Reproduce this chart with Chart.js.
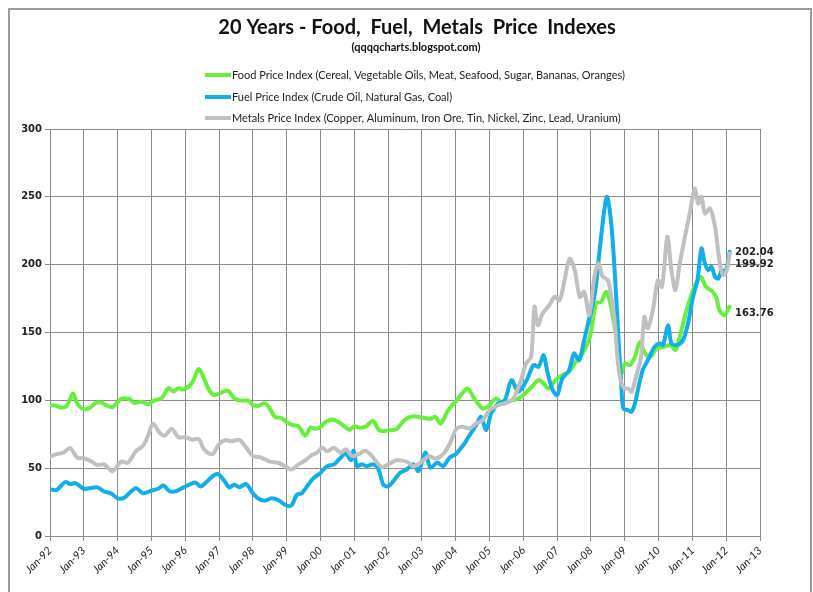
<!DOCTYPE html>
<html>
<head>
<meta charset="utf-8">
<script src="https://cdn.jsdelivr.net/npm/chart.js@4/dist/chart.umd.min.js"></script>
<style>
  html, body { margin: 0; padding: 0; background: #fff; }
  #wrap { width: 813px; height: 592px; }
</style>
</head>
<body>
<div id="wrap"><canvas id="linechart" width="813" height="592"></canvas></div>
<script>
/* Data (x = year as a decimal) */
const titleText = '20 Years - Food,  Fuel,  Metals  Price  Indexes';
const subtitleText = '(qqqqcharts.blogspot.com)';
const seriesNames = [
  'Food Price Index (Cereal, Vegetable Oils, Meat, Seafood, Sugar, Bananas, Oranges)',
  'Fuel Price Index (Crude Oil, Natural Gas, Coal)',
  'Metals Price Index (Copper, Aluminum, Iron Ore, Tin, Nickel, Zinc, Lead, Uranium)'
];
const seriesColors = ['#66f03a', '#10aeea', '#c0c0c0'];
const endLabels = ['163.76', '202.04', '199.92'];

const foodDates = [1992.0,1992.2,1992.35,1992.5,1992.68,1992.8,1992.95,1993.15,1993.35,1993.5,1993.65,1993.85,
  1994.1,1994.35,1994.5,1994.7,1994.9,1995.05,1995.3,1995.5,1995.65,1995.8,1995.95,1996.2,1996.4,1996.55,1996.7,
  1996.85,1997.0,1997.2,1997.3,1997.45,1997.65,1997.85,1998.0,1998.15,1998.35,1998.5,1998.65,1998.85,1999.0,
  1999.15,1999.35,1999.55,1999.7,1999.85,2000.0,2000.15,2000.35,2000.6,2000.85,2001.0,2001.2,2001.35,2001.55,
  2001.75,2002.0,2002.25,2002.5,2002.75,2003.0,2003.25,2003.4,2003.55,2003.75,2003.9,2004.0,2004.15,2004.35,
  2004.55,2004.8,2005.0,2005.2,2005.4,2005.65,2005.85,2006.05,2006.25,2006.45,2006.6,2006.75,2006.95,2007.15,
  2007.35,2007.55,2007.75,2007.9,2008.0,2008.15,2008.3,2008.45,2008.55,2008.65,2008.8,2008.9,2009.0,2009.15,
  2009.3,2009.45,2009.6,2009.75,2009.95,2010.15,2010.35,2010.5,2010.6,2010.8,2010.95,2011.1,2011.25,2011.4,
  2011.55,2011.7,2011.8,2011.95,2012.1];
const foodValues = [96.5,95.8,94.5,96,105,97.8,94,94,98,98.5,96.5,95,
  101,101,98,99,97,99.5,101.5,109,106.5,109,108,112.8,123,116.5,107.8,
  104,105,107,106.5,101.5,99.8,100,96.5,95.8,97.8,94,87.8,87,84,
  82,80.8,74,79.8,79,80.3,84,85.8,82.8,78.3,80.8,79.8,80.8,84.8,
  77.8,77.8,78.8,85.8,88.3,87.3,86.5,87.8,82.8,91.5,96.5,99,103.8,108.7,
  101.3,94,96.4,101.3,97.7,100,101.3,105,110,114.9,112.5,108.7,114.9,118.6,
  121,128.4,134.5,142,150,171.4,172.6,180,173.8,161.5,139.4,119.8,127.1,126,
  132,143.1,134.6,132,138.2,139.4,140.7,137,144.3,164,176.3,186,191,183.7,
  181.2,176.3,166.5,162.8,169];

const fuelDates = [1992.0,1992.2,1992.45,1992.6,1992.75,1993.0,1993.2,1993.4,1993.6,1993.8,1994.0,1994.2,
  1994.4,1994.55,1994.75,1995.0,1995.2,1995.35,1995.55,1995.75,1995.95,1996.3,1996.45,1996.65,1996.85,1997.0,
  1997.2,1997.3,1997.45,1997.6,1997.8,1998.0,1998.15,1998.35,1998.55,1998.75,1999.0,1999.15,1999.3,1999.45,
  1999.65,1999.8,2000.0,2000.2,2000.4,2000.55,2000.75,2000.9,2000.98,2001.08,2001.22,2001.37,2001.57,2001.72,
  2001.86,2002.0,2002.15,2002.35,2002.55,2002.75,2002.9,2003.1,2003.25,2003.45,2003.63,2003.82,2004.0,2004.25,
  2004.35,2004.6,2004.75,2004.9,2005.05,2005.25,2005.45,2005.65,2005.85,2006.1,2006.3,2006.45,2006.6,2006.7,
  2006.85,2007.0,2007.15,2007.35,2007.5,2007.65,2007.8,2007.95,2008.05,2008.15,2008.3,2008.47,2008.6,2008.7,
  2008.8,2008.9,2008.96,2009.1,2009.2,2009.3,2009.43,2009.53,2009.63,2009.73,2009.88,2010.03,2010.13,2010.28,
  2010.38,2010.53,2010.72,2010.87,2011.02,2011.15,2011.27,2011.37,2011.47,2011.57,2011.67,2011.77,2011.87,
  2011.97,2012.1];
const fuelValues = [34.5,34,39.8,38.3,39,34.8,35.3,35.8,32.8,31.5,27.8,28.3,
  32.8,35.3,31.5,33.5,34.8,37.3,32.8,33.3,35.8,39.5,36.5,40.3,44.8,45.3,
  39,35.8,37.8,36,38.3,31.5,27.8,26,27.8,26.5,22.3,22.8,30.3,31.5,
  38.3,42.8,46.5,51.5,52.8,56.5,60.8,55.8,62.8,51.5,52.8,51.5,52.8,49,
  37.8,36.5,40.3,46.5,49,52.8,47.8,61.5,50.3,54,51.5,57.8,60.3,67.8,
  71.9,81.7,87.8,78,90.3,97.7,100,114.9,106.3,114.9,126,124.7,133.3,122.2,
  108.7,103.8,116,122,134.5,129.6,144.4,160.3,170,185,220.5,250,230.3,196,
  151.7,110,94,92.8,91.5,97.7,112.4,122.2,127.1,132,139.4,141.9,140.7,155.4,
  141.9,140.7,144.3,156.6,176.3,188.6,211.9,200.9,196,198.4,191,189.8,196,
  193.5,209.5];

const metalsDates = [1992.0,1992.2,1992.4,1992.6,1992.8,1993.0,1993.2,1993.4,1993.6,1993.85,1994.1,1994.3,
  1994.55,1994.75,1994.9,1995.05,1995.25,1995.4,1995.6,1995.8,1996.0,1996.2,1996.4,1996.55,1996.8,1997.0,
  1997.2,1997.35,1997.6,1997.8,1998.0,1998.25,1998.5,1998.75,1999.0,1999.15,1999.35,1999.55,1999.75,1999.9,
  2000.05,2000.2,2000.4,2000.6,2000.75,2000.93,2001.13,2001.32,2001.52,2001.8,2002.0,2002.25,2002.55,2002.75,
  2003.0,2003.2,2003.4,2003.63,2003.82,2004.02,2004.2,2004.4,2004.6,2004.8,2005.0,2005.25,2005.45,2005.7,
  2005.93,2006.08,2006.23,2006.33,2006.43,2006.57,2006.77,2006.92,2007.07,2007.22,2007.37,2007.52,2007.67,
  2007.8,2007.95,2008.1,2008.22,2008.35,2008.5,2008.6,2008.7,2008.8,2008.9,2009.0,2009.1,2009.2,2009.33,
  2009.48,2009.58,2009.68,2009.83,2009.98,2010.1,2010.26,2010.38,2010.5,2010.62,2010.77,2010.92,2011.07,
  2011.17,2011.27,2011.37,2011.52,2011.67,2011.82,2011.92,2012.02,2012.1];
const metalsValues = [58.5,60.3,61.5,64.8,57.8,57.3,55.3,52.3,52.8,47.8,54.8,54,
  62.8,66.5,74,82.8,75.8,74,79,72.8,72.8,71,71.5,64,60.3,67.8,
  70.8,69.8,70.8,65.3,59,57.8,54.8,54,50.8,49,52.8,55.8,59.8,61.5,
  65,62.5,65,61.3,64,59,60.3,62.8,59,50.8,52.8,55.8,54.8,51.5,
  54.8,59,57,60.3,67.8,79,80.5,79.2,82.9,85.4,92.8,96.4,97.7,101.3,
  114.9,127.1,132,168.9,155.4,164,170.1,176.3,173.8,188.6,204.5,196,176.3,
  180,162.8,191,201,191,188.6,176.3,159,127.1,112.4,108.7,108.7,106.3,117.3,
  132,161.5,153,166.5,188.6,183.7,220.5,196,181.2,199.6,219.3,237.7,256,
  245,250,237.7,241.4,228,199.6,192.3,196,208.2];

const xTickYears = [];
for (let y = 1992; y <= 2013; y++) xTickYears.push(y);

/* Functions */
function toPoints(dates, values){
  return dates.map((d, i) => ({x: d, y: values[i]}));
}

// Title, subtitle, legend, end labels and outer frame
const decorations = {
  id: 'decorations',
  afterDraw(chart){
    const c = chart.ctx;
    c.save();
    c.strokeStyle = '#9b9b9b';
    c.lineWidth = 2;
    c.strokeRect(9, 9, 802, 620);

    c.fillStyle = '#111';
    c.textAlign = 'center';
    c.textBaseline = 'middle';
    c.font = 'bold 20px Lato';
    c.fillText(titleText, 417, 28);
    c.font = 'bold 11px Lato';
    c.fillText(subtitleText, 416, 47);

    c.textAlign = 'left';
    c.font = '11px Lato';
    const legendY = [75, 97, 118];
    seriesNames.forEach((name, i) => {
      c.strokeStyle = seriesColors[i];
      c.lineWidth = 4;
      c.beginPath();
      c.moveTo(205, legendY[i]);
      c.lineTo(231, legendY[i]);
      c.stroke();
      c.fillStyle = '#222';
      c.fillText(name, 232, legendY[i]);
    });

    const ys = chart.scales.y;
    c.font = 'bold 10px "DejaVu Sans"';
    c.fillStyle = '#222';
    const shift = [0, -9, 0];
    endLabels.forEach((t, i) => {
      c.fillText(t, 735, ys.getPixelForValue(parseFloat(t)) + shift[i]);
    });
    c.restore();
  }
};

new Chart('linechart', {
  type: 'line',
  data: {
    datasets: [
      {label: seriesNames[0], data: toPoints(foodDates, foodValues), borderColor: seriesColors[0], order: 2},
      {label: seriesNames[1], data: toPoints(fuelDates, fuelValues), borderColor: seriesColors[1], order: 1},
      {label: seriesNames[2], data: toPoints(metalsDates, metalsValues), borderColor: seriesColors[2], order: 0}
    ]
  },
  options: {
    responsive: false,
    animation: false,
    elements: {
      line: {borderWidth: 4, tension: 0.3, fill: false, borderCapStyle: 'round', borderJoinStyle: 'round'},
      point: {radius: 0}
    },
    layout: {padding: {top: 129, right: 53, bottom: 0, left: 8}},
    plugins: {legend: {display: false}, title: {display: false}, tooltip: {enabled: false}},
    scales: {
      x: {
        type: 'linear',
        min: 1992, max: 2013,
        afterBuildTicks(scale){ scale.ticks = xTickYears.map(v => ({value: v})); },
        afterFit(scale){ scale.height = 56; },
        ticks: {
          minRotation: 45, maxRotation: 45, color: '#222', font: {family: 'Lato', size: 11, style: 'italic'},
          callback: v => 'Jan-' + String(v).slice(2)
        },
        grid: {color: '#8a8a8a', tickLength: 5},
        border: {color: '#8a8a8a'}
      },
      y: {
        min: 0, max: 300,
        afterFit(scale){ scale.width = 42; },
        ticks: {stepSize: 50, color: '#222', font: {family: 'DejaVu Sans', size: 10, weight: 'bold'}},
        grid: {color: '#8a8a8a', tickLength: 5},
        border: {color: '#8a8a8a'}
      }
    }
  },
  plugins: [decorations]
});
</script>
</body>
</html>
